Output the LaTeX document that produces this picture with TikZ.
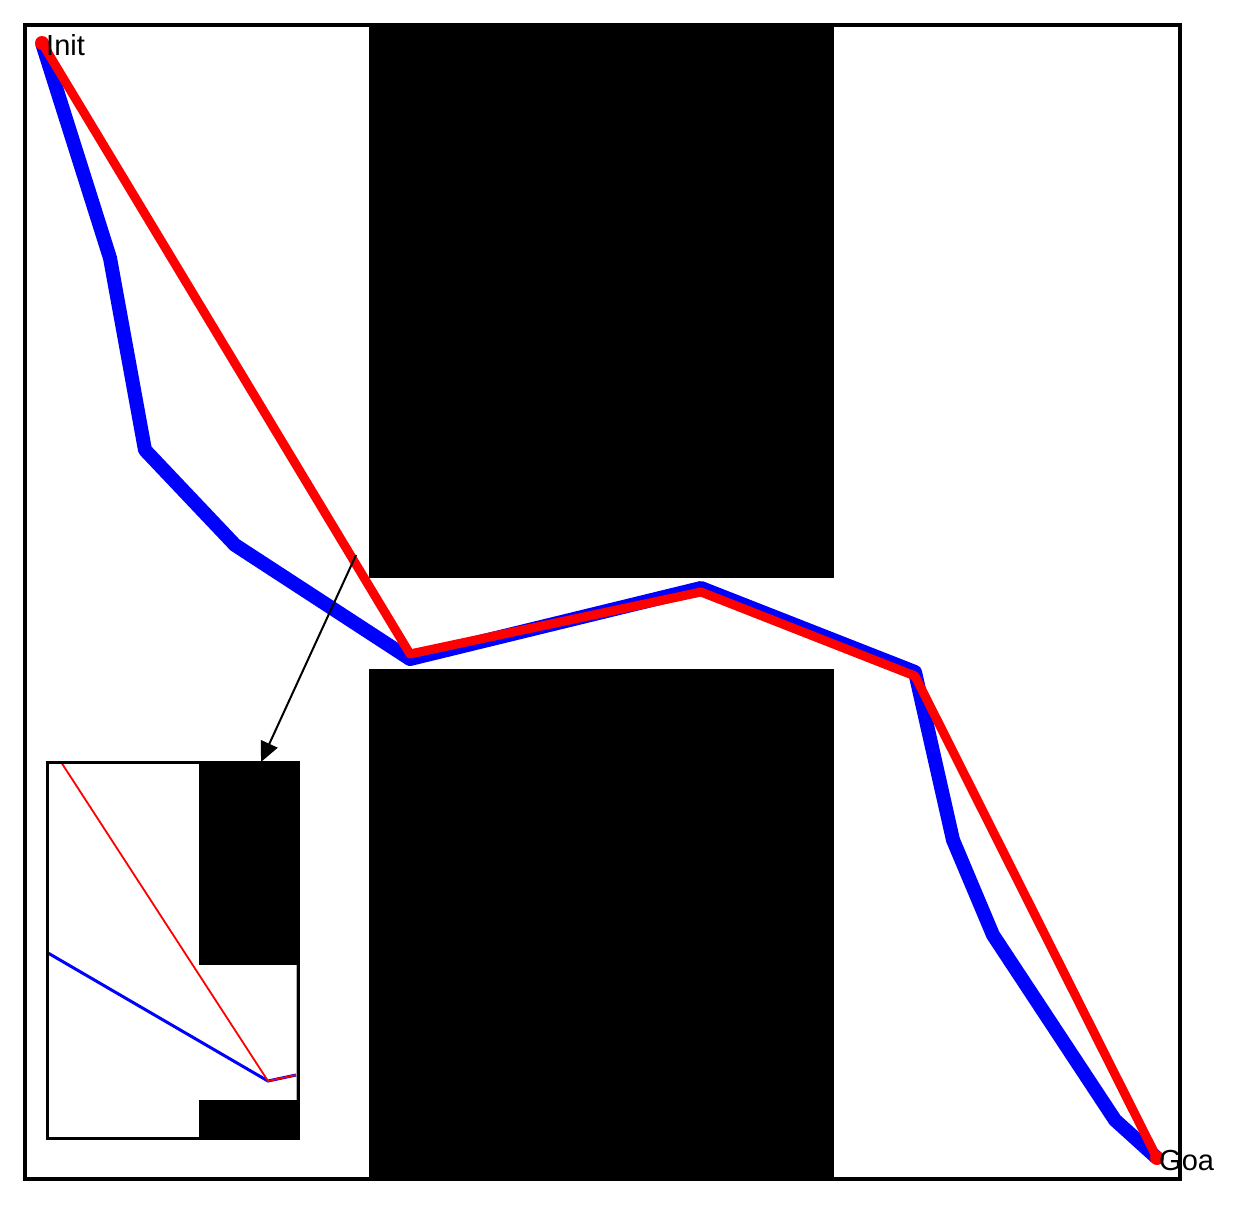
\documentclass[tikz,border=0pt]{standalone}
\usepackage{fontspec}
\setmainfont{Liberation Sans}
\usetikzlibrary{arrows.meta}
\begin{document}
\begin{tikzpicture}[x=1pt,y=-1pt,
  frame/.style={draw=black,line width=4pt},
  block/.style={fill=black},
  bluepath/.style={draw=blue,line width=14pt,line join=round},
  redpath/.style={draw=red,line width=9pt,line join=round},
  lbl/.style={inner sep=0pt,anchor=base west,font=\fontsize{29}{32}\selectfont}]
\useasboundingbox (0,0) rectangle (1251,1215);
% obstacles
\fill[block] (369,25) rectangle (834,578);
\fill[block] (369,669) rectangle (834,1179);
\draw[frame] (25,25) rectangle (1180,1179);
% path points
\coordinate (s) at (42,43);
\coordinate (b1) at (110,258);
\coordinate (b2) at (145,450);
\coordinate (b3) at (235,545);
\coordinate (b4) at (410,659);
\coordinate (b5) at (701,588);
\coordinate (b6) at (915,672);
\coordinate (b7) at (953,840);
\coordinate (b8) at (993,935);
\coordinate (b9) at (1115,1120);
\coordinate (g) at (1157,1158);
\coordinate (r1) at (410,654);
\coordinate (r2) at (701,592);
\coordinate (r3) at (915,676);
\draw[bluepath] (s) -- (b1) -- (b2) -- (b3) -- (b4) -- (b5) -- (b6) -- (b7) -- (b8) -- (b9) -- (g);
\draw[redpath] (s) -- (r1) -- (r2) -- (r3) -- (g);
\fill[red] (s) circle (7);
\fill[red] (g) circle (7);
% inset
\fill[white] (47,762) rectangle (298,1138);
\fill[block] (199,762) rectangle (298,965);
\fill[block] (199,1100) rectangle (298,1138);
\draw[gray!60,line width=0.6pt] (296,965) -- (296,1100);
\coordinate (ia) at (61,762);
\coordinate (ib) at (48,953);
\coordinate (ic) at (268,1081);
\coordinate (id) at (296,1075);
\draw[blue,line width=3pt] (ib) -- (ic) -- (id);
\draw[red,line width=1.8pt] (ia) -- (ic) -- (id);
\draw[frame,line width=3pt] (47,762) rectangle (298,1138);
% zoom arrow
\coordinate (za) at (356,555);
\coordinate (zb) at (261,762);
\draw[line width=2pt,-{Triangle[length=20pt,width=18pt]}] (za) -- (zb);
% labels
\node[lbl] (init) at (46,56) {Init};
\node[lbl] (goal) at (1159,1170) {Goa};
\end{tikzpicture}
\end{document}
